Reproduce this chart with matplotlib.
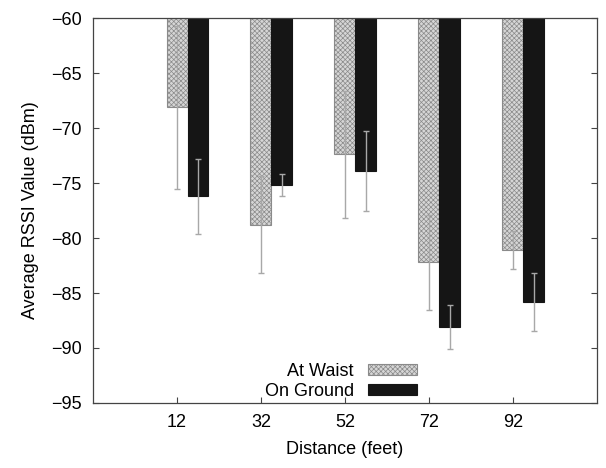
import numpy as np
from matplotlib import pyplot as plt

# Data
distances = ["12", "32", "52", "72", "92"]
waist_mean = [-68.1, -78.8, -72.4, -82.2, -81.1]
waist_err = [7.4, 4.4, 5.8, 4.3, 1.7]
ground_mean = [-76.2, -75.2, -73.9, -88.1, -85.8]
ground_err = [3.4, 1.0, 3.6, 2.0, 2.65]

plt.rcParams["font.family"] = ["Liberation Sans", "DejaVu Sans"]
plt.rcParams["hatch.color"] = "#a0a0a0"
plt.rcParams["hatch.linewidth"] = 0.5

fig = plt.figure(figsize=(6.06, 4.68), dpi=100)
ax = fig.add_axes([0.1535, 0.1389, 0.8315, 0.8226])

x = np.arange(len(distances))
w = 0.25

ax.bar(x, waist_mean, width=w, color="#d6d6d6", edgecolor="#8a8a8a",
       linewidth=0.8, hatch="xxxxxxx", label="At Waist", zorder=2)
ax.bar(x + w, ground_mean, width=w, color="#151515", edgecolor="#151515",
       linewidth=0.8, label="On Ground", zorder=2)

ax.errorbar(x, waist_mean, yerr=waist_err, fmt="none", ecolor="#a8a8a8",
            elinewidth=1.0, capsize=2, capthick=1.0, zorder=3)
ax.errorbar(x + w, ground_mean, yerr=ground_err, fmt="none", ecolor="#a8a8a8",
            elinewidth=1.0, capsize=2, capthick=1.0, zorder=3)

ax.set_xlim(-1, 5)
ax.set_ylim(-95, -60)
ax.set_xticks(x)
ax.set_xticklabels(distances)
ax.set_yticks(np.arange(-95, -59, 5))

ax.tick_params(axis="both", direction="in", labelsize=13, length=4,
               color="#444444", pad=8)
ax.tick_params(axis="y", right=True)
for s in ax.spines.values():
    s.set_color("#444444")
    s.set_linewidth(0.9)

ax.set_xlabel("Distance (feet)", fontsize=13, labelpad=7)
ax.set_ylabel("Average RSSI Value (dBm)", fontsize=13, labelpad=9)

ax.legend(loc="lower right", bbox_to_anchor=(0.675, -0.035), frameon=False,
          markerfirst=False, fontsize=13, handlelength=2.7, handleheight=0.55,
          labelspacing=0.2, handletextpad=0.8)

plt.savefig("out.png", dpi=100)
